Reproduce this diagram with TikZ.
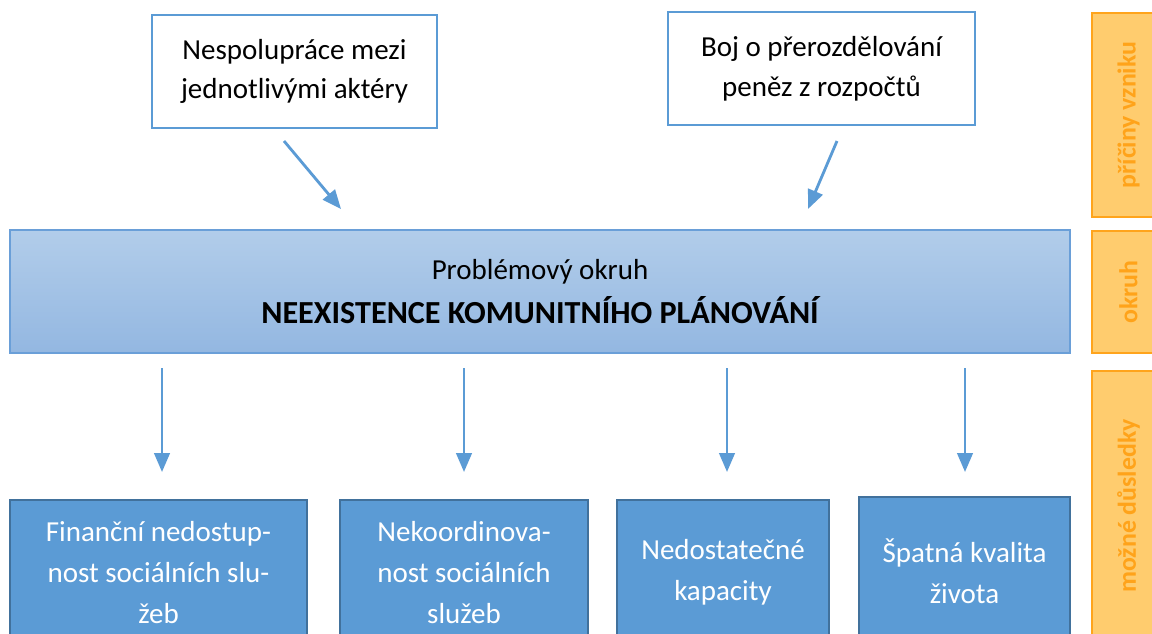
\documentclass[tikz,border=0pt]{standalone}
\usepackage{fontspec}
\setmainfont{Carlito}
\usetikzlibrary{positioning, arrows.meta}
\definecolor{causeline}{HTML}{5B9BD5}
\definecolor{mainline}{HTML}{6A9FD8}
\definecolor{maintop}{HTML}{B2CDEA}
\definecolor{mainbot}{HTML}{93B7E1}
\definecolor{effectfill}{HTML}{5B9BD5}
\definecolor{effectline}{HTML}{41719C}
\definecolor{sidefill}{HTML}{FFCC6E}
\definecolor{sideline}{HTML}{FFA41C}
\definecolor{sidetext}{HTML}{FFA31A}
\tikzset{
    causebox/.style={draw=causeline, line width=1.2pt, fill=white, inner sep=0pt, outer sep=0pt,
        align=center, minimum height=2.26cm, font=\fontsize{16.5}{22.5}\selectfont},
    effectbox/.style={draw=effectline, line width=1.1pt, fill=effectfill, text=white, inner sep=0pt,
        outer sep=0pt, align=center, minimum height=2.9cm, font=\fontsize{16.5}{23.5}\selectfont},
    sidebox/.style={draw=sideline, line width=1.1pt, fill=sidefill, text=sidetext, inner sep=0pt,
        outer sep=0pt, rotate=90, minimum height=1.46cm, font=\fontsize{14.7}{16}\selectfont\bfseries},
    flow/.style={causeline, line width=1.6pt, -{Triangle[length=0.38cm, width=0.31cm]}}
}
\begin{document}
\begin{tikzpicture}[x=0.02cm, y=-0.02cm]
    \useasboundingbox[fill=white] (0,0) rectangle (1152,633);

    % Causes
    \node[causebox, minimum width=5.7cm] (coop) at (294.5,71.5) {Nespolupráce mezi\\jednotlivými aktéry};
    \node[causebox, minimum width=6.14cm] (money) at (821.5,68.5) {Boj o přerozdělování\\peněz z rozpočtů};

    % Problem area
    \node[draw=mainline, line width=1.2pt, top color=maintop, bottom color=mainbot, inner sep=0pt,
        outer sep=0pt, minimum width=21.2cm, minimum height=2.46cm, align=center,
        font=\fontsize{16.5}{23}\selectfont] (problem) at (540,291.5)
        {\raisebox{2.5pt}{Problémový okruh}\\{\fontsize{18.3}{23}\selectfont\bfseries NEEXISTENCE KOMUNITNÍHO PLÁNOVÁNÍ}};

    % Consequences
    \node[effectbox, minimum width=5.94cm] (finance) at (158.5,572.5) {Finanční nedostup-\\nost sociálních slu-\\žeb};
    \node[effectbox, minimum width=4.96cm] (coord) at (464,572.5) {Nekoordinova-\\nost sociálních\\služeb};
    \node[effectbox, minimum width=4.24cm] (capacity) at (723,572.5) {Nedostatečné\\kapacity};
    \node[effectbox, minimum width=4.22cm, minimum height=2.96cm] (quality) at (964.5,571) {Špatná kvalita\\života};

    % Side labels
    \node[sidebox, minimum width=4.08cm] (sidecause) at (1128.5,115) {příčiny vzniku};
    \node[sidebox, minimum width=2.44cm] (sidearea) at (1128.5,292) {okruh};
    \node[sidebox, minimum width=5.4cm] (sideeffect) at (1128.5,506) {možné důsledky};

    % Arrow ends
    \coordinate (coopA) at (284,141);
    \coordinate (coopB) at (341,209);
    \coordinate (moneyA) at (837,141);
    \coordinate (moneyB) at (808,209);
    \foreach \name/\x in {finance/162, coord/464, capacity/727, quality/965} {
        \coordinate (\name A) at (\x,368);
        \coordinate (\name B) at (\x,472);
    }

    % Arrows
    \draw[flow] (coopA) -- (coopB);
    \draw[flow] (moneyA) -- (moneyB);
    \foreach \name in {finance, coord, capacity, quality}
        \draw[flow] (\name A) -- (\name B);
\end{tikzpicture}
\end{document}
